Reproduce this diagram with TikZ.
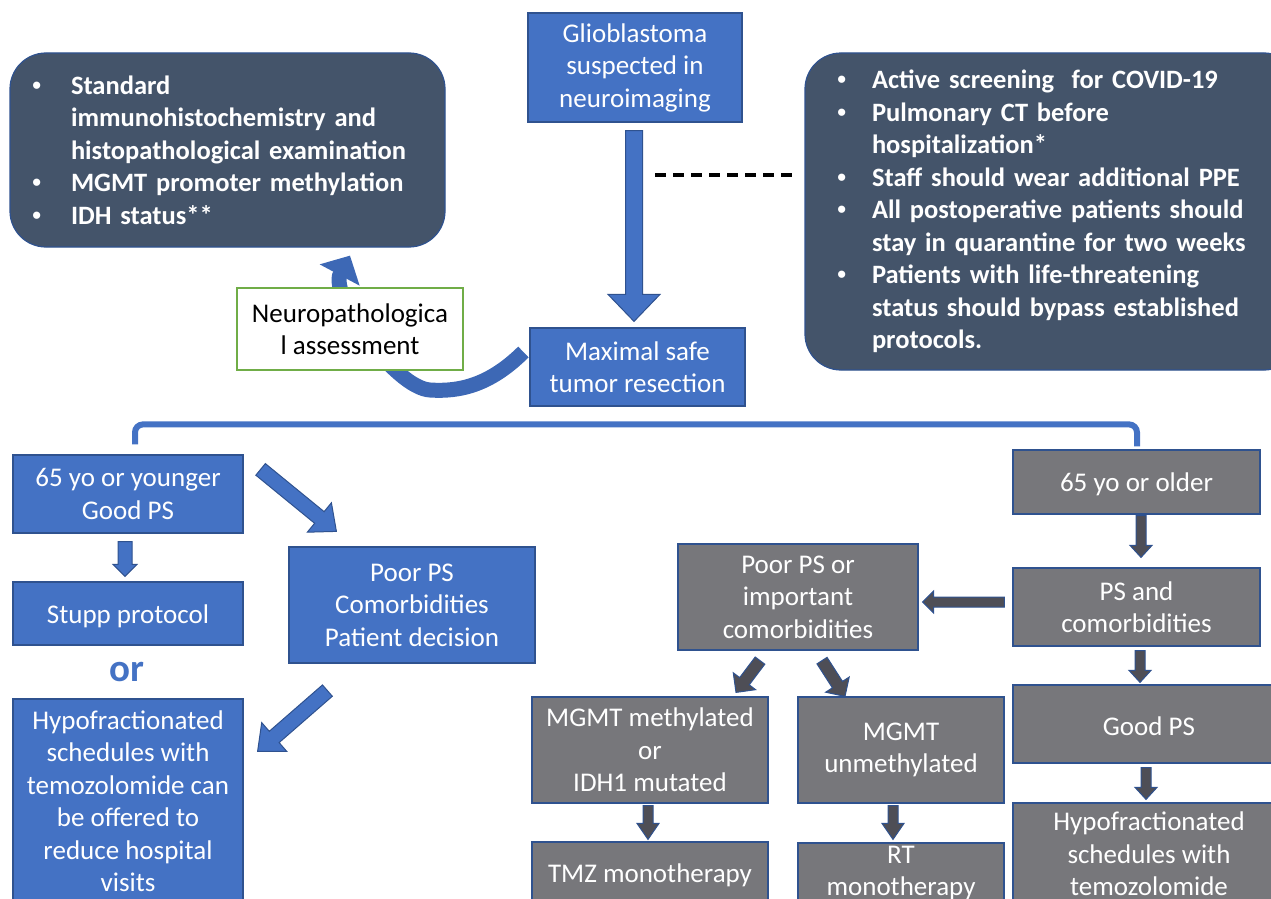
\documentclass[tikz,border=0pt]{standalone}
\usepackage{fontspec}
\setmainfont{Carlito}
\newfontfamily\bulletfont{Liberation Sans}
\usetikzlibrary{calc,arrows.meta}
\definecolor{bfill}{HTML}{4472C4}
\definecolor{bline}{HTML}{2F528F}
\definecolor{slate}{HTML}{44546A}
\definecolor{gfill}{HTML}{77777B}
\definecolor{darr}{HTML}{4E4E56}
\definecolor{nbgreen}{HTML}{70AD47}
\definecolor{curv}{HTML}{3D68B5}
\pgfdeclarelayer{bg}
\pgfsetlayers{bg,main}
\newcommand\blockarrow[6]{%
  \coordinate (ba1) at #2;
  \coordinate (ba2) at #3;
  \coordinate (bah) at ($(ba2)!#6!(ba1)$);
  \draw[#1] ($(ba1)!#4!90:(ba2)$) -- ($(bah)!#4!90:(ba2)$) -- ($(bah)!#5!90:(ba2)$) -- (ba2) -- ($(bah)!#5!-90:(ba2)$) -- ($(bah)!#4!-90:(ba2)$) -- ($(ba1)!#4!-90:(ba2)$) -- cycle;}
\newcommand\bul[1]{\makebox[#1][l]{\hspace*{3pt}{\bulletfont\mdseries •}}}
\begin{document}
\begin{tikzpicture}[x=1pt,y=-1pt,
  box/.style={rectangle, inner sep=0pt, line width=1.2pt, align=center, font=\fontsize{27}{32.5}\selectfont, execute at begin node={\rule{0pt}{24pt}}},
  bbox/.style={box, draw=bline, fill=bfill, text=white},
  gbox/.style={box, draw=bline, fill=gfill, text=white},
  nbox/.style={box, draw=nbgreen, fill=white, text=black},
  sbox/.style={rectangle, rounded corners=36pt, draw=bline, line width=1.2pt, fill=slate, text=white, align=left, inner sep=0pt, font=\bfseries\fontsize{26.5}{32.5}\selectfont},
  barrow/.style={fill=bfill, draw=bline, line width=1pt},
  darrow/.style={fill=darr, draw=bline, line width=1pt},
  orlabel/.style={text=bfill, font=\bfseries\fontsize{39}{40}\selectfont, inner sep=0pt},
  bracket/.style={draw=bfill, line width=6pt, rounded corners=8pt},
  dashline/.style={draw=black, line width=3.5pt, dash pattern=on 11pt off 7pt},
  curvearrow/.style={draw=curv, line width=15pt, -{Triangle[width=44pt,length=22pt]}}
]
\useasboundingbox (0,0) rectangle (1271,899);

% top row
\node[sbox, minimum width=435pt, minimum height=194pt, text width=397pt] (leftdark) at (227.5,150)
 {\bul{42pt}Standard\\\hspace*{42pt}immunohistochemistry and\\\hspace*{42pt}histopathological examination\\\bul{42pt}MGMT promoter methylation\\\bul{42pt}IDH status**};
\node[bbox, minimum width=214pt, minimum height=109pt] (gliob) at (635,67.5) {Glioblastoma\\suspected in\\neuroimaging};
\node[sbox, minimum width=495pt, minimum height=317pt, text width=437pt] (rightdark) at (1052.5,211.5)
 {\bul{38pt}Active screening\ \ for COVID-19\\\bul{38pt}Pulmonary CT before\\\hspace*{38pt}hospitalization*\\\bul{38pt}Staff should wear additional PPE\\\bul{38pt}All postoperative patients should\\\hspace*{38pt}stay in quarantine for two weeks\\\bul{38pt}Patients with life-threatening\\\hspace*{38pt}status should bypass established\\\hspace*{38pt}protocols.};
\node[bbox, minimum width=215pt, minimum height=78pt] (maxres) at (637.5,367) {Maximal safe\\tumor resection};
\node[nbox, minimum width=226pt, minimum height=82pt] (neuro) at (350,329) {Neuropathologica\\l assessment};

% left branch
\node[bbox, minimum width=230pt, minimum height=78pt] (young) at (128,494) {65 yo or younger\\Good PS};
\node[bbox, minimum width=230pt, minimum height=63pt] (stupp) at (128,613.5) {Stupp protocol};
\node[orlabel] (orword) at (127,672) {or};
\node[bbox, minimum width=230pt, minimum height=204pt] (hypoL) at (128,801) {Hypofractionated\\schedules with\\temozolomide can\\be offered to\\reduce hospital\\visits};
\node[bbox, minimum width=246pt, minimum height=116pt] (poor) at (412,605) {Poor PS\\Comorbidities\\Patient decision};

% right branch
\node[gbox, minimum width=247pt, minimum height=64pt] (older) at (1136.5,482) {65 yo or older};
\node[gbox, minimum width=247pt, minimum height=78pt] (psc) at (1136.5,607) {PS and\\comorbidities};
\node[gbox, minimum width=240pt, minimum height=106pt] (poorold) at (798,597) {Poor PS or\\important\\comorbidities};
\node[gbox, minimum width=272pt, minimum height=78pt] (goodps) at (1149,724) {Good PS};
\node[gbox, minimum width=272pt, minimum height=102pt] (hypoR) at (1149,854) {Hypofractionated\\schedules with\\temozolomide};
\node[gbox, minimum width=236pt, minimum height=106pt] (meth) at (650,750) {MGMT methylated\\or\\IDH1 mutated};
\node[gbox, minimum width=206pt, minimum height=106pt] (unmeth) at (901,750) {MGMT\\unmethylated};
\node[gbox, minimum width=236pt, minimum height=62pt] (tmz) at (650,873) {TMZ monotherapy};
\node[gbox, minimum width=206pt, minimum height=60pt] (rt) at (901,873) {RT\\monotherapy};

% curved arrow (behind)
\begin{pgfonlayer}{bg}
\draw[curvearrow] ($(maxres.west)+(-6,-15)$) .. controls (490,385) and (460,392) .. (430,390)
   .. controls (395,388) and (329,295) .. ($(leftdark.south)+(122.5,8)$);
\end{pgfonlayer}

% dashed line
\coordinate (dashL) at (655,175);
\coordinate (dashR) at ($(rightdark.west)+(-10,-36.5)$);
\draw[dashline] (dashL) -- (dashR);

% bracket
\draw[bracket] ($(young.north)+(7,-10)$) -- ++(0,-20) -| ($(older.north)+(0.5,-3)$);

% block arrows
\blockarrow{barrow}{($(gliob.south)+(-1,8)$)}{($(maxres.north)+(-3.5,-6)$)}{8.5pt}{26pt}{27pt}
\blockarrow{barrow}{($(young.south)+(-3,8)$)}{($(stupp.north)+(-3,-5)$)}{7pt}{12pt}{12pt}
\blockarrow{barrow}{($(young.north east)+(17,15)$)}{($(poor.north west)+(48,-15)$)}{7.5pt}{19pt}{22pt}
\blockarrow{barrow}{($(poor.south west)+(39,27)$)}{($(hypoL.north east)+(14,53)$)}{7.5pt}{19pt}{22pt}
\blockarrow{darrow}{($(older.south)+(4.5,1)$)}{($(psc.north)+(4.5,-10)$)}{5pt}{11pt}{12pt}
\blockarrow{darrow}{($(psc.west)+(-8,-5)$)}{($(poorold.east)+(4,5)$)}{5pt}{11pt}{11pt}
\blockarrow{darrow}{($(psc.south)+(3.5,4)$)}{($(goodps.north)+(-9,-2)$)}{5pt}{11pt}{12pt}
\blockarrow{darrow}{($(goodps.south)+(-3,4)$)}{($(hypoR.north)+(-3,-3)$)}{5pt}{11pt}{12pt}
\blockarrow{darrow}{($(poorold.south)+(-38,10)$)}{($(meth.north)+(86,-4)$)}{6pt}{14pt}{14pt}
\blockarrow{darrow}{($(poorold.south)+(24,10)$)}{($(unmeth.north)+(-56,0)$)}{6pt}{14pt}{14pt}
\blockarrow{darrow}{($(meth.south)+(-2,2)$)}{($(tmz.north)+(-2,-2)$)}{5pt}{11pt}{16pt}
\blockarrow{darrow}{($(unmeth.south)+(-8,2)$)}{($(rt.north)+(-8,-3)$)}{5pt}{11pt}{16pt}
\end{tikzpicture}
\end{document}
